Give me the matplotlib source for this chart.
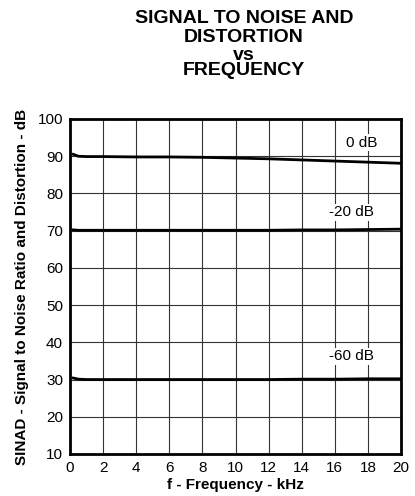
import matplotlib
matplotlib.use("Agg")
import matplotlib.pyplot as plt

plt.rcParams['font.family'] = ['Liberation Sans', 'DejaVu Sans']

# frequency in kHz
freq = [0.2, 0.5, 1, 2, 4, 6, 8, 10, 12, 14, 16, 18, 20]
sinad_0db = [90.5, 90.0, 89.9, 89.9, 89.8, 89.8, 89.7, 89.5, 89.3, 89.0, 88.7, 88.4, 88.1]
sinad_20db = [70.2, 70.1, 70.1, 70.1, 70.1, 70.1, 70.1, 70.1, 70.1, 70.2, 70.2, 70.3, 70.4]
sinad_60db = [30.4, 30.1, 30.0, 30.0, 30.0, 30.0, 30.0, 30.0, 30.0, 30.1, 30.1, 30.2, 30.2]

curve_labels = ["0 dB", "-20 dB", "-60 dB"]
label_pos = [(17.6, 93.6), (17.0, 74.9), (17.0, 36.2)]

fig = plt.figure(figsize=(4.15, 4.96), dpi=100)
ax = fig.add_axes([0.1687, 0.0847, 0.7976, 0.6754])

for s in [sinad_0db, sinad_20db, sinad_60db]:
    ax.plot(freq, s, color="black", lw=2, zorder=3)

for txt, (x, y) in zip(curve_labels, label_pos):
    ax.text(x, y, txt, ha="center", va="center", fontsize=11,
            bbox=dict(facecolor="white", edgecolor="none", pad=1), zorder=4)

ax.set_xlim(0, 20)
ax.set_ylim(10, 100)
ax.set_xticks(range(0, 21, 2))
ax.set_yticks(range(10, 101, 10))
ax.grid(True, color="#333333", lw=0.8)
ax.tick_params(length=0, labelsize=11, pad=5)
for sp in ax.spines.values():
    sp.set_linewidth(2)

ax.set_xlabel("f - Frequency - kHz", fontsize=11, fontweight="bold", labelpad=2)
ax.set_ylabel("SINAD - Signal to Noise Ratio and Distortion - dB", fontsize=11,
              fontweight="bold", labelpad=6)

title_lines = ["SIGNAL TO NOISE AND", "DISTORTION", "vs", "FREQUENCY"]
title_y = [0.962, 0.925, 0.889, 0.857]
for t, y in zip(title_lines, title_y):
    fig.text(0.588, y, t, ha="center", va="center", fontsize=14, fontweight="bold")

fig.savefig("out.png", dpi=100)
